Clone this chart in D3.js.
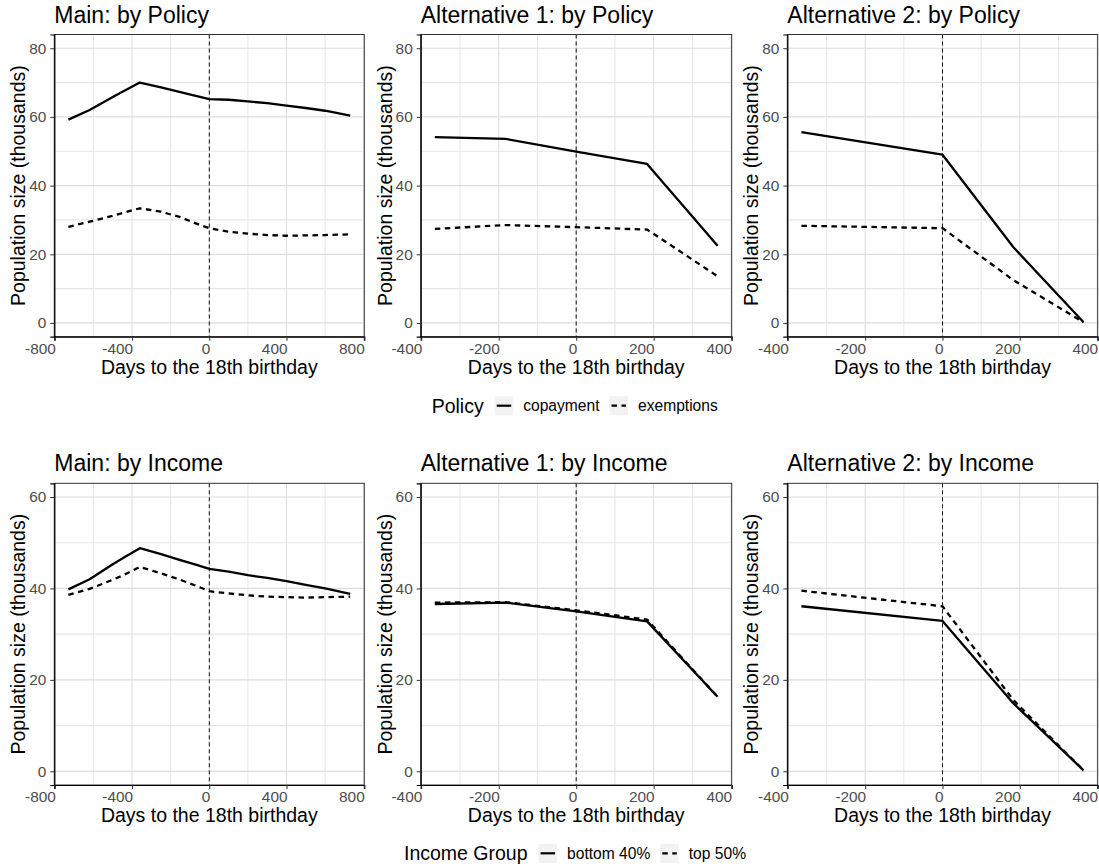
<!DOCTYPE html>
<html>
<head>
<meta charset="utf-8">
<script src="https://cdn.jsdelivr.net/npm/d3@7"></script>
<style>
html,body{margin:0;padding:0;background:#fff;}
svg text{font-family:"Liberation Sans",Arial,Helvetica,sans-serif;}
</style>
</head>
<body>
<svg id="chart" width="1099" height="867"></svg>
<script>
// ---------- data ----------
const mainDays = [-730, -620, -500, -440, -360, -250, -150, -70, 0, 100, 200, 300, 400, 500, 600, 730];
const mainCopayment = [59.2, 62.0, 65.8, 67.6, 70.0, 68.6, 67.2, 66.1, 65.2, 65.0, 64.5, 64.0, 63.3, 62.6, 61.8, 60.4];
const mainExemptions = [28.0, 29.5, 31.2, 32.2, 33.4, 32.4, 30.8, 29.0, 27.6, 26.6, 26.0, 25.6, 25.4, 25.5, 25.6, 25.8];
const mainBottom40 = [39.8, 42.0, 45.3, 46.8, 48.8, 47.5, 46.2, 45.2, 44.3, 43.7, 42.9, 42.3, 41.6, 40.8, 40.0, 38.8];
const mainTop50 = [38.6, 39.9, 41.9, 43.0, 44.7, 43.3, 41.9, 40.6, 39.4, 38.9, 38.5, 38.2, 38.1, 38.0, 38.1, 38.2];

const alt1Days = [-365, -182, 0, 183, 365];
const alt1Copayment = [54.1, 53.6, 49.9, 46.3, 22.5];
const alt1Exemptions = [27.4, 28.5, 27.9, 27.2, 13.6];
const alt1Bottom40 = [36.6, 36.9, 35.0, 32.8, 16.3];
const alt1Top50 = [36.9, 37.0, 35.2, 33.2, 16.3];

const alt2Days = [-365, 0, 183, 365];
const alt2Copayment = [55.6, 49.0, 22.1, 0.2];
const alt2Exemptions = [28.3, 27.6, 12.5, 0.2];
const alt2Bottom40 = [36.1, 32.9, 14.9, 0.2];
const alt2Top50 = [39.5, 36.1, 15.6, 0.2];

const mainXTicks = [-800, -400, 0, 400, 800];
const altXTicks = [-400, -200, 0, 200, 400];
const policyYTicks = [0, 20, 40, 60, 80];
const incomeYTicks = [0, 20, 40, 60];

const policyLabels = ["copayment", "exemptions"];
const incomeLabels = ["bottom 40%", "top 50%"];

const xTitle = "Days to the 18th birthday";
const yTitle = "Population size (thousands)";

// ---------- layout ----------
const svg = d3.select("#chart");
const cols = [[54.3, 364.3], [420.7, 731.7], [787.3, 1097.7]];
const rows = [[34.5, 336.7], [483.3, 785]];

const panels = [
  {title: "Main: by Policy", row: 0, col: 0, days: mainDays, series: [mainCopayment, mainExemptions], xdom: [-803, 803], xt: mainXTicks, ydom: [-4, 84], yt: policyYTicks},
  {title: "Alternative 1: by Policy", row: 0, col: 1, days: alt1Days, series: [alt1Copayment, alt1Exemptions], xdom: [-401.5, 401.5], xt: altXTicks, ydom: [-4, 84], yt: policyYTicks},
  {title: "Alternative 2: by Policy", row: 0, col: 2, days: alt2Days, series: [alt2Copayment, alt2Exemptions], xdom: [-401.5, 401.5], xt: altXTicks, ydom: [-4, 84], yt: policyYTicks},
  {title: "Main: by Income", row: 1, col: 0, days: mainDays, series: [mainBottom40, mainTop50], xdom: [-803, 803], xt: mainXTicks, ydom: [-3, 63], yt: incomeYTicks},
  {title: "Alternative 1: by Income", row: 1, col: 1, days: alt1Days, series: [alt1Bottom40, alt1Top50], xdom: [-401.5, 401.5], xt: altXTicks, ydom: [-3, 63], yt: incomeYTicks},
  {title: "Alternative 2: by Income", row: 1, col: 2, days: alt2Days, series: [alt2Bottom40, alt2Top50], xdom: [-401.5, 401.5], xt: altXTicks, ydom: [-3, 63], yt: incomeYTicks}
];

const dashes = [null, "5.5,4.5"];

panels.forEach(p => {
  const [x0, x1] = cols[p.col];
  const [y0, y1] = rows[p.row];
  const x = d3.scaleLinear().domain(p.xdom).range([x0, x1]);
  const y = d3.scaleLinear().domain(p.ydom).range([y1, y0]);
  const g = svg.append("g");

  // minor grid
  const xStep = p.xt[1] - p.xt[0];
  const xMinor = p.xt.slice(0, -1).map(v => v + xStep / 2);
  const yStep = p.yt[1] - p.yt[0];
  const yMinor = p.yt.slice(0, -1).map(v => v + yStep / 2);
  g.selectAll(".xmin").data(xMinor).join("line")
    .attr("x1", d => x(d)).attr("x2", d => x(d)).attr("y1", y0).attr("y2", y1)
    .attr("stroke", "#e6e6e6").attr("stroke-width", 1);
  g.selectAll(".ymin").data(yMinor).join("line")
    .attr("x1", x0).attr("x2", x1).attr("y1", d => y(d)).attr("y2", d => y(d))
    .attr("stroke", "#e6e6e6").attr("stroke-width", 1.2);
  // major grid
  g.selectAll(".xmaj").data(p.xt).join("line")
    .attr("x1", d => x(d)).attr("x2", d => x(d)).attr("y1", y0).attr("y2", y1)
    .attr("stroke", "#dcdcdc").attr("stroke-width", 1);
  g.selectAll(".ymaj").data(p.yt).join("line")
    .attr("x1", x0).attr("x2", x1).attr("y1", d => y(d)).attr("y2", d => y(d))
    .attr("stroke", "#dcdcdc").attr("stroke-width", 1.2);

  // series lines
  const line = d3.line().x((d, i) => x(p.days[i])).y(d => y(d));
  p.series.forEach((s, k) => {
    g.append("path").datum(s).attr("d", line)
      .attr("fill", "none").attr("stroke", "#000").attr("stroke-width", 2.3)
      .attr("stroke-linejoin", "round")
      .attr("stroke-dasharray", dashes[k]);
  });

  // vertical dashed line at 0
  g.append("line").attr("x1", x(0)).attr("x2", x(0)).attr("y1", y0).attr("y2", y1)
    .attr("stroke", "#111").attr("stroke-width", 1).attr("stroke-dasharray", "4,3");

  // border
  g.append("rect").attr("x", x0).attr("y", y0).attr("width", x1 - x0).attr("height", y1 - y0)
    .attr("fill", "none").attr("stroke", "#333").attr("stroke-width", 1);

  // axes
  const xa = g.append("g").attr("transform", `translate(0,${y1})`)
    .call(d3.axisBottom(x).tickValues(p.xt).tickFormat(d => String(d)).tickSize(4).tickPadding(2));
  xa.select(".domain").attr("stroke", "#000").attr("stroke-width", 1.2);
  xa.selectAll(".tick line").attr("stroke", "#333");
  xa.selectAll(".tick text").attr("text-anchor", "end").attr("fill", "#4d4d4d")
    .style("font-size", "15.4px").attr("dx", "0.5");
  const ya = g.append("g").attr("transform", `translate(${x0},0)`)
    .call(d3.axisLeft(y).tickValues(p.yt).tickFormat(d => String(d)).tickSize(4).tickPadding(4));
  ya.select(".domain").attr("stroke", "#000").attr("stroke-width", 1.2);
  ya.selectAll(".tick line").attr("stroke", "#333");
  ya.selectAll(".tick text").attr("fill", "#4d4d4d").style("font-size", "15.4px");

  // titles
  g.append("text").attr("x", x0).attr("y", y0 - 12).text(p.title)
    .style("font-size", "23px").attr("fill", "#000");
  g.append("text").attr("x", (x0 + x1) / 2).attr("y", y1 + 37).attr("text-anchor", "middle")
    .text(xTitle).style("font-size", "19.5px").attr("fill", "#000");
  g.append("text").attr("transform", `translate(${x0 - 29},${(y0 + y1) / 2}) rotate(-90)`)
    .attr("text-anchor", "middle").text(yTitle).style("font-size", "19.5px").attr("fill", "#000");
});

// ---------- legends ----------
function legend(title, labels, titleX, cy) {
  const g = svg.append("g");
  const t = g.append("text").attr("x", titleX).attr("y", cy).attr("dominant-baseline", "central")
    .text(title).style("font-size", "19.5px").attr("fill", "#000");
  let cx = titleX + t.node().getComputedTextLength() + 11;
  labels.forEach((lab, k) => {
    g.append("rect").attr("x", cx).attr("y", cy - 9.5).attr("width", 18.5).attr("height", 19)
      .attr("fill", "#f2f2f2");
    g.append("line").attr("x1", cx + 2).attr("x2", cx + 16.5).attr("y1", cy).attr("y2", cy)
      .attr("stroke", "#000").attr("stroke-width", 2.2).attr("stroke-dasharray", dashes[k]);
    const lt = g.append("text").attr("x", cx + 28.5).attr("y", cy).attr("dominant-baseline", "central")
      .text(lab).style("font-size", "15.6px").attr("fill", "#000");
    cx = cx + 28.5 + lt.node().getComputedTextLength() + 10;
  });
}
legend("Policy", policyLabels, 431.7, 405.7);
legend("Income Group", incomeLabels, 404, 853.3);
</script>
</body>
</html>
